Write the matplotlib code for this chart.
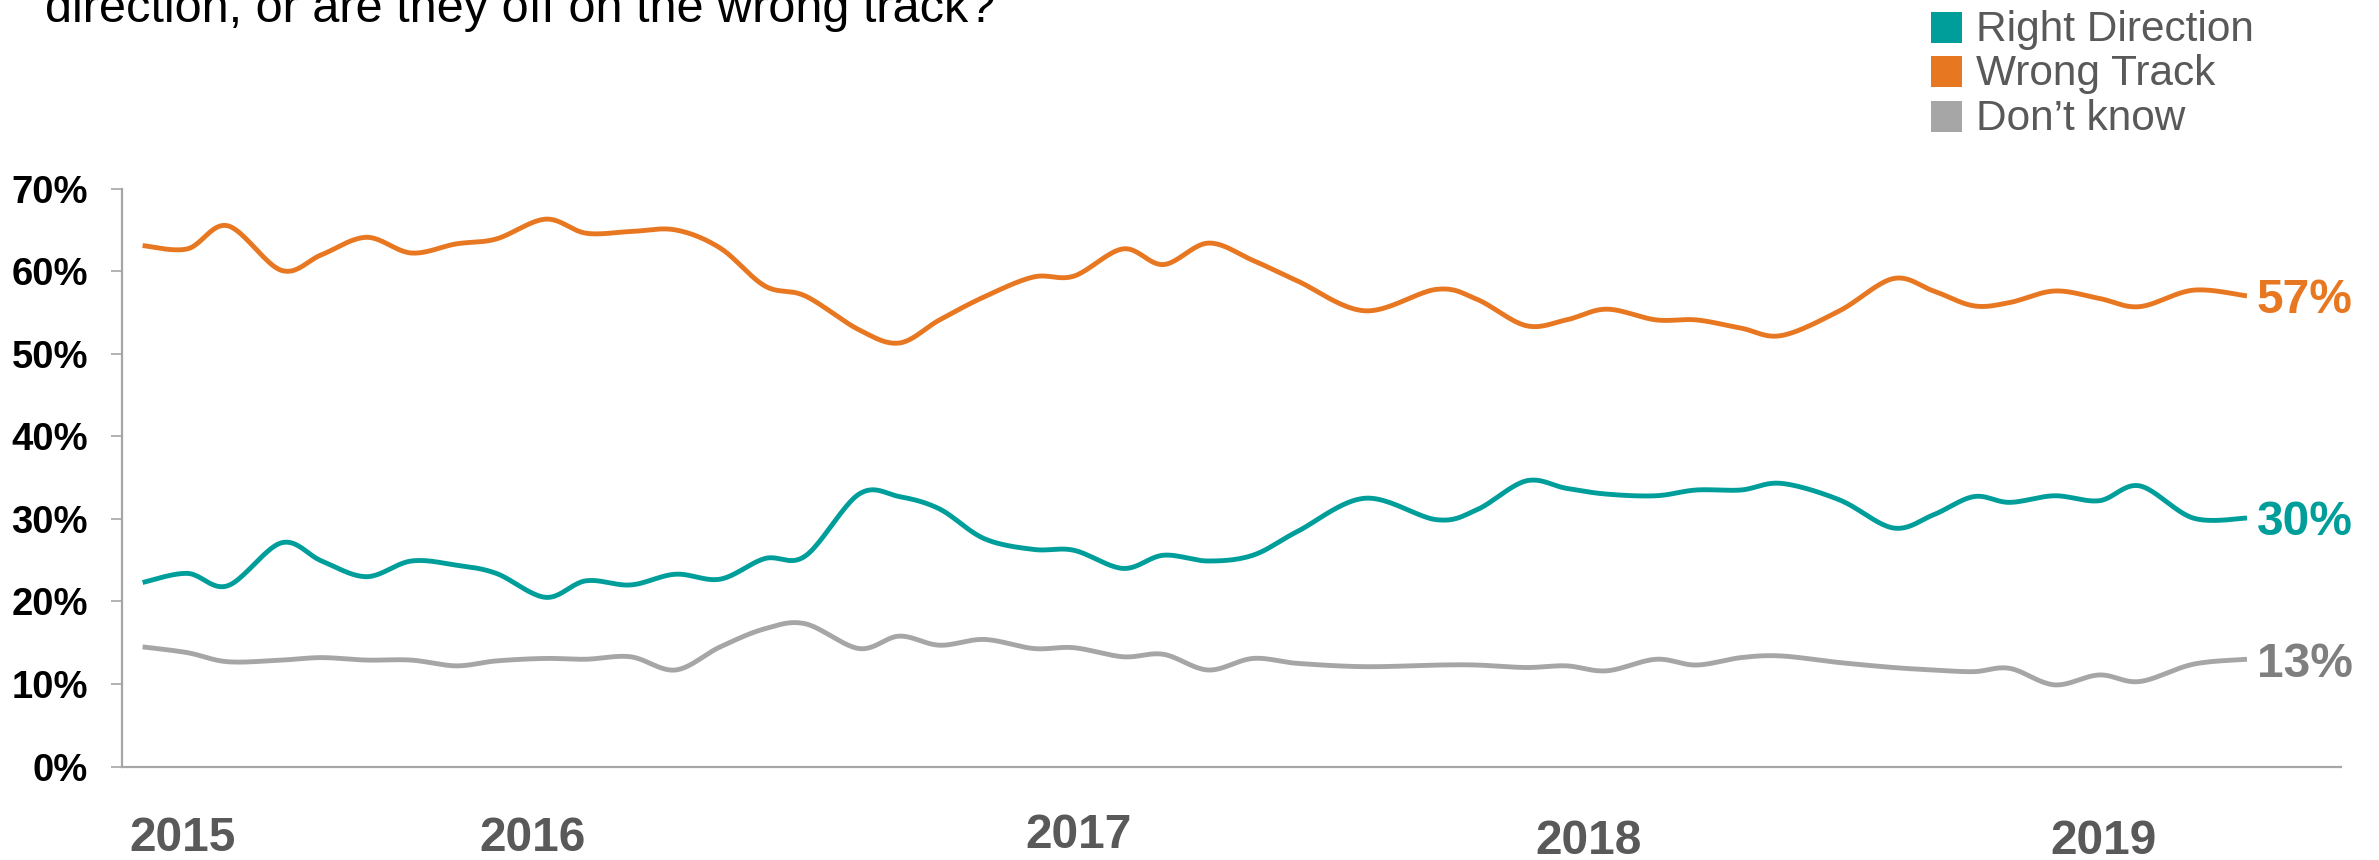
import numpy as np
import matplotlib
matplotlib.use("Agg")
import matplotlib.pyplot as plt
from matplotlib.patches import Rectangle
from matplotlib.transforms import blended_transform_factory

plt.rcParams['font.family'] = ['Liberation Sans', 'DejaVu Sans']

## DATA

# poll position, in months after the first poll (early 2015)
poll_month = [0.0, 1.0, 1.9, 3.1, 4.0, 5.0, 6.0, 7.0, 7.9, 9.0,
              9.9, 10.9, 11.9, 12.9, 13.9, 14.8, 16.0, 16.9, 17.8, 18.8, 19.9,
              20.8, 21.9, 22.8, 23.8, 24.8, 25.8, 27.3, 28.9, 29.8,
              30.9, 31.8, 32.7, 33.8, 34.7, 35.7, 36.6, 37.9, 39.1, 40.0,
              40.9, 41.7, 42.7, 43.7, 44.6, 45.8, 47.0]

right_direction = [22.3, 23.4, 21.9, 27.1, 24.9, 23.0, 24.9, 24.4, 23.4, 20.5,
                   22.5, 22.0, 23.3, 22.7, 25.2, 25.5, 33.0, 32.7, 31.2, 27.6, 26.3,
                   26.2, 24.0, 25.6, 24.9, 25.6, 28.5, 32.5, 29.9, 31.1,
                   34.6, 33.7, 33.0, 32.8, 33.5, 33.5, 34.3, 32.3, 28.9, 30.5,
                   32.7, 32.0, 32.8, 32.2, 34.0, 30.1, 30.1]

wrong_track = [63.1, 62.7, 65.5, 60.1, 62.0, 64.1, 62.2, 63.3, 63.9, 66.3,
               64.6, 64.8, 65.0, 62.8, 58.2, 57.0, 52.9, 51.3, 54.1, 56.9, 59.3,
               59.4, 62.7, 60.8, 63.4, 61.3, 58.8, 55.2, 57.8, 56.6,
               53.4, 54.1, 55.4, 54.1, 54.1, 53.1, 52.2, 55.2, 59.1, 57.6,
               55.8, 56.2, 57.6, 56.7, 55.7, 57.7, 57.0]

dont_know = [14.5, 13.8, 12.7, 12.9, 13.2, 12.9, 12.9, 12.2, 12.8, 13.1,
             13.0, 13.3, 11.7, 14.5, 16.7, 17.3, 14.3, 15.8, 14.7, 15.4, 14.3,
             14.4, 13.3, 13.6, 11.7, 13.1, 12.5, 12.1, 12.3, 12.3,
             12.0, 12.2, 11.6, 13.0, 12.3, 13.2, 13.4, 12.6, 12.0, 11.7,
             11.5, 11.9, 9.9, 11.1, 10.3, 12.4, 13.0]

series_names = ['Right Direction', 'Wrong Track', 'Don\u2019t know']
year_labels = ['2015', '2016', '2017', '2018', '2019']
year_month = [0.9, 8.7, 20.9, 32.3, 43.8]
y_ticks = [0, 10, 20, 30, 40, 50, 60, 70]

TEAL = '#009E9A'
ORANGE = '#E87722'
GREY = '#A6A6A6'
DARK_GREY = '#7F7F7F'
TEXT_GREY = '#595959'
AXIS_GREY = '#A6A6A6'

W, H = 2379, 860


def smooth(x, y, steps=24):
    # excel-like smoothed line: one cubic bezier per segment, catmull-rom handles
    p = np.column_stack([x, y]).astype(float)
    pe = np.vstack([p[0], p, p[-1]])
    t = np.linspace(0, 1, steps)[:, None]
    out = [p[:1]]
    for i in range(len(p) - 1):
        p0, p1, p2, p3 = pe[i], pe[i + 1], pe[i + 2], pe[i + 3]
        c1 = p1 + (p2 - p0) / 6
        c2 = p2 - (p3 - p1) / 6
        seg = (1 - t) ** 3 * p1 + 3 * (1 - t) ** 2 * t * c1 + 3 * (1 - t) * t ** 2 * c2 + t ** 3 * p2
        out.append(seg[1:])
    out = np.vstack(out)
    return out[:, 0], out[:, 1]


fig = plt.figure(figsize=(W / 100, H / 100), dpi=100)
ax = fig.add_axes([122 / W, 1 - 766.6 / H, (2341 - 122) / W, 578 / H])

series = [(right_direction, TEAL, TEAL),
          (wrong_track, ORANGE, ORANGE),
          (dont_know, GREY, DARK_GREY)]

for vals, color, label_color in series:
    sx, sy = smooth(poll_month, vals)
    ax.plot(sx, sy, color=color, lw=3.5, solid_capstyle='butt')
    ax.annotate(f'{round(vals[-1])}%', xy=(poll_month[-1], vals[-1]),
                xytext=(7, -3.5), textcoords='offset points',
                ha='left', va='center', fontsize=34.5, fontweight='bold',
                color=label_color, annotation_clip=False)

ax.set_xlim(-0.46, 49.1)
ax.set_ylim(0, 70)

for side in ['top', 'right']:
    ax.spines[side].set_visible(False)
for side in ['left', 'bottom']:
    ax.spines[side].set_color(AXIS_GREY)
    ax.spines[side].set_linewidth(1.6)

ax.set_xticks([])
ax.set_yticks(y_ticks)
ax.set_yticklabels([f'{v}%' for v in y_ticks])
ax.tick_params(axis='y', direction='out', length=8, width=1.2, color=AXIS_GREY,
               pad=16.5, labelsize=27.5, labelcolor='black')
for lab in ax.get_yticklabels():
    lab.set_fontweight('bold')

# year labels sit loosely under the axis
year_y = [-0.124, -0.124, -0.119, -0.130, -0.130]
trans = blended_transform_factory(ax.transData, ax.transAxes)
for lab, m, yy in zip(year_labels, year_month, year_y):
    ax.text(m, yy, lab, transform=trans, ha='center', va='center',
            fontsize=34.5, fontweight='bold', color=TEXT_GREY)

# legend, top right
row_y = [27, 71, 116]
for name, (_, color, _), ry in zip(series_names, series, row_y):
    fig.add_artist(Rectangle((1931 / W, 1 - (ry + 15.5) / H), 31 / W, 31 / H,
                             transform=fig.transFigure, color=color, lw=0))
    fig.text(1976.5 / W, 1 - (ry + 3) / H, name, ha='left', va='center',
             fontsize=30.5, color=TEXT_GREY)

# question text, cut off by the top edge
fig.text(45 / W, 1 - 22 / H, 'direction, or are they off on the wrong track?',
         ha='left', va='baseline', fontsize=35, color='black')

fig.savefig('out.png', dpi=100)
